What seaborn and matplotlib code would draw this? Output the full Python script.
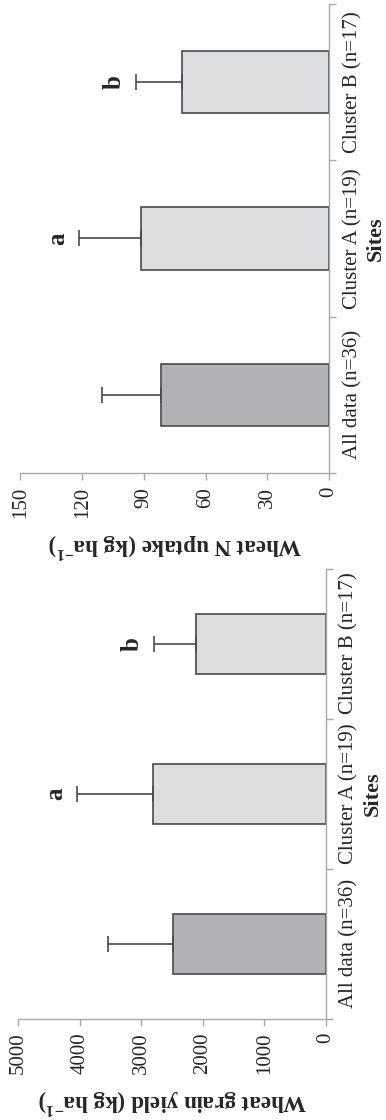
import matplotlib
matplotlib.use("Agg")
import matplotlib.pyplot as plt
import seaborn as sns
import pandas as pd

sites = ["All data (n=36)", "Cluster A (n=19)", "Cluster B (n=17)"]
letters = ["", "a", "b"]

grain_yield = [2490, 2810, 2110]
grain_yield_sd = [1055, 1230, 690]

n_uptake = [81.8, 91.2, 71.3]
n_uptake_sd = [28.6, 30.3, 22.5]

sns.set_style("ticks")
plt.rcParams["font.family"] = ["Liberation Serif", "DejaVu Serif"]
plt.rcParams["mathtext.fontset"] = "custom"
plt.rcParams["mathtext.rm"] = "Liberation Serif"
plt.rcParams["mathtext.bf"] = "Liberation Serif:bold"

bar_colors = ["#b1b2b5", "#dcdddf", "#dcdddf"]
edge = "#4a4a4a"
axis_gray = "#a8a8a8"

fig = plt.figure(figsize=(3.86, 11.2), dpi=100)
ax_n = fig.add_axes([0.0531, 0.5777, 0.7992, 0.41875])
ax_y = fig.add_axes([0.0474, 0.0902, 0.7964, 0.4022])


def panel(ax, means, sds, vmax, step, label):
    df = pd.DataFrame({"site": sites, "value": means})
    sns.barplot(data=df, x="value", y="site", hue="site", palette=bar_colors,
                orient="h", errorbar=None, width=0.4, legend=False,
                edgecolor=edge, linewidth=1.2, ax=ax)
    pos = list(range(len(sites)))
    ax.errorbar(means, pos, xerr=[[0] * len(sds), sds], fmt="none",
                ecolor=edge, elinewidth=1.2, capsize=6, capthick=1.2)
    for i, (m, s, let) in enumerate(zip(means, sds, letters)):
        if let:
            ax.annotate(let, xy=(m + s, i), xytext=(-10, 0),
                        textcoords="offset pixels", rotation=90,
                        ha="right", va="center", fontsize=18,
                        fontweight="bold")

    ax.set_xlim(vmax, 0)
    ax.set_ylim(-0.5, 2.5)
    ax.set_xticks(range(0, vmax + 1, step))
    ax.set_yticks(pos)
    ax.set_yticklabels(sites)
    ax.set_yticks([-0.5, 0.5, 1.5, 2.5], minor=True)
    ax.yaxis.tick_right()
    ax.tick_params(axis="y", which="major", length=0, pad=10,
                   labelrotation=90, labelsize=15, right=True, left=False)
    ax.tick_params(axis="y", which="minor", length=5, width=1,
                   color=axis_gray, right=True, left=False)
    ax.tick_params(axis="x", length=5, width=1, color=axis_gray,
                   labelrotation=90, labelsize=15, pad=5)
    for t in ax.get_yticklabels():
        t.set_va("center")

    for side in ["top", "left"]:
        ax.spines[side].set_visible(False)
    for side in ["right", "bottom"]:
        ax.spines[side].set_color(axis_gray)
        ax.spines[side].set_linewidth(1.0)

    ax.yaxis.set_label_position("right")
    ax.set_ylabel("Sites", fontsize=16, fontweight="bold", labelpad=3)
    ax.set_xlabel(label, fontsize=16.5, fontweight="bold", rotation=180,
                  labelpad=9)


panel(ax_n, n_uptake, n_uptake_sd, 150, 30,
      r"Wheat N uptake (kg ha$^{\mathbf{-1}}$)")
panel(ax_y, grain_yield, grain_yield_sd, 5000, 1000,
      r"Wheat grain yield (kg ha$^{\mathbf{-1}}$)")

fig.savefig("out.png", dpi=100)
